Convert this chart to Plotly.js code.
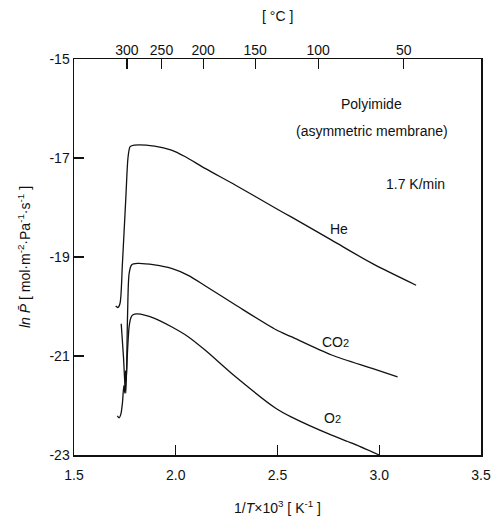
<!DOCTYPE html>
<html>
<head>
<meta charset="utf-8">
<script src="https://cdn.plot.ly/plotly-3.0.1.min.js"></script>
<style>html,body{margin:0;padding:0;background:#fff;}#chart{width:496px;height:521px;}</style>
</head>
<body>
<div id="chart"></div>
<script>
// He
const heX = [1.705, 1.716, 1.726, 1.738, 1.755, 1.766, 1.776, 1.796, 1.896, 1.979, 2.045, 2.144, 2.294, 2.493, 2.567, 2.766, 2.965, 3.181];
const heY = [-19.99, -20.02, -19.94, -19.13, -17.78, -16.97, -16.77, -16.74, -16.76, -16.84, -16.97, -17.21, -17.55, -18.02, -18.19, -18.66, -19.13, -19.57];
// CO2
const co2X = [1.732, 1.743, 1.750, 1.755, 1.763, 1.771, 1.783, 1.812, 1.896, 1.979, 2.061, 2.144, 2.294, 2.493, 2.567, 2.766, 2.965, 3.090];
const co2Y = [-20.35, -21.01, -21.55, -21.75, -20.21, -19.33, -19.16, -19.13, -19.16, -19.23, -19.37, -19.58, -19.97, -20.47, -20.61, -20.98, -21.25, -21.42];
// O2
const o2X = [1.713, 1.722, 1.730, 1.738, 1.745, 1.750, 1.753, 1.756, 1.763, 1.771, 1.780, 1.788, 1.812, 1.896, 1.979, 2.061, 2.144, 2.294, 2.493, 2.567, 2.766, 2.866, 3.000];
const o2Y = [-22.21, -22.25, -22.18, -21.95, -21.60, -21.75, -21.30, -21.50, -20.90, -20.40, -20.22, -20.17, -20.15, -20.24, -20.41, -20.61, -20.88, -21.42, -22.06, -22.23, -22.60, -22.76, -23.00];
// top axis (°C) tick positions on 1/T×10³ scale
const topTickPos = [1.760, 1.930, 2.135, 2.390, 2.700, 3.120];
const topTickText = ["300", "250", "200", "150", "100", "50"];
const bottomTicks = [1.5, 2.0, 2.5, 3.0, 3.5];
const leftTicks = [-15, -17, -19, -21, -23];

const lineStyle = {color: '#111', width: 1.3, shape: 'spline', smoothing: 0.8};
const traces = [
  {x: heX, y: heY, mode: 'lines', line: lineStyle, hoverinfo: 'skip'},
  {x: co2X, y: co2Y, mode: 'lines', line: lineStyle, hoverinfo: 'skip'},
  {x: o2X, y: o2Y, mode: 'lines', line: lineStyle, hoverinfo: 'skip'},
  {x: heX, y: heY, xaxis: 'x2', mode: 'lines', line: {width: 0, color: 'rgba(0,0,0,0)'}, hoverinfo: 'skip'}
];
const font = {family: 'Liberation Sans, Arial, sans-serif', size: 14, color: '#111'};
const layout = {
  width: 496, height: 521,
  margin: {l: 74, r: 15, t: 59, b: 66},
  showlegend: false,
  paper_bgcolor: '#fff', plot_bgcolor: '#fff',
  font: font,
  xaxis: {
    range: [1.5, 3.5], tickvals: bottomTicks, ticktext: bottomTicks.map(v => v.toFixed(1)),
    ticks: 'inside', ticklen: 10, tickcolor: '#111', tickwidth: 1.2, ticklabelstandoff: 7,
    showline: true, linecolor: '#111', linewidth: 1.5, mirror: true,
    showgrid: false, zeroline: false,
    title: {text: '1/<i>T</i>×10<sup>3</sup> [ K<sup>-1</sup> ]', font: {size: 14}, standoff: 21}
  },
  xaxis2: {
    overlaying: 'x', side: 'top', range: [1.5, 3.5],
    tickvals: topTickPos, ticktext: topTickText,
    ticks: 'inside', ticklen: 10, tickcolor: '#111', tickwidth: 1.2,
    showline: false, showgrid: false, zeroline: false
  },
  yaxis: {
    range: [-23, -15], tickvals: leftTicks, ticktext: leftTicks.map(v => '-' + Math.abs(v)),
    ticks: 'inside', ticklen: 10, tickcolor: '#111', tickwidth: 1.2,
    showline: true, linecolor: '#111', linewidth: 1.5, mirror: true,
    showgrid: false, zeroline: false,
    title: {text: '<i>ln P̄</i> [ mol·m<sup>-2</sup>·Pa<sup>-1</sup>·s<sup>-1</sup> ]', font: {size: 14}, standoff: 15}
  },
  annotations: [
    {xref: 'paper', yref: 'paper', x: 0.5, y: 1.1086, yanchor: 'middle', text: '[ °C ]', showarrow: false, font: {size: 14}},
    {x: 2.96, y: -15.91, text: 'Polyimide', showarrow: false, font: {size: 14}},
    {x: 2.965, y: -16.45, text: '(asymmetric membrane)', showarrow: false, font: {size: 14}},
    {x: 3.179, y: -17.53, text: '1.7 K/min', showarrow: false, font: {size: 14}},
    {x: 2.80, y: -18.43, text: 'He', showarrow: false, font: {size: 14}},
    {x: 2.786, y: -20.72, text: 'CO<span style="font-size:11px">2</span>', showarrow: false, font: {size: 14}},
    {x: 2.771, y: -22.25, text: 'O<span style="font-size:11px">2</span>', showarrow: false, font: {size: 14}}
  ]
};
Plotly.newPlot('chart', traces, layout, {staticPlot: true, displayModeBar: false});
</script>
</body>
</html>
